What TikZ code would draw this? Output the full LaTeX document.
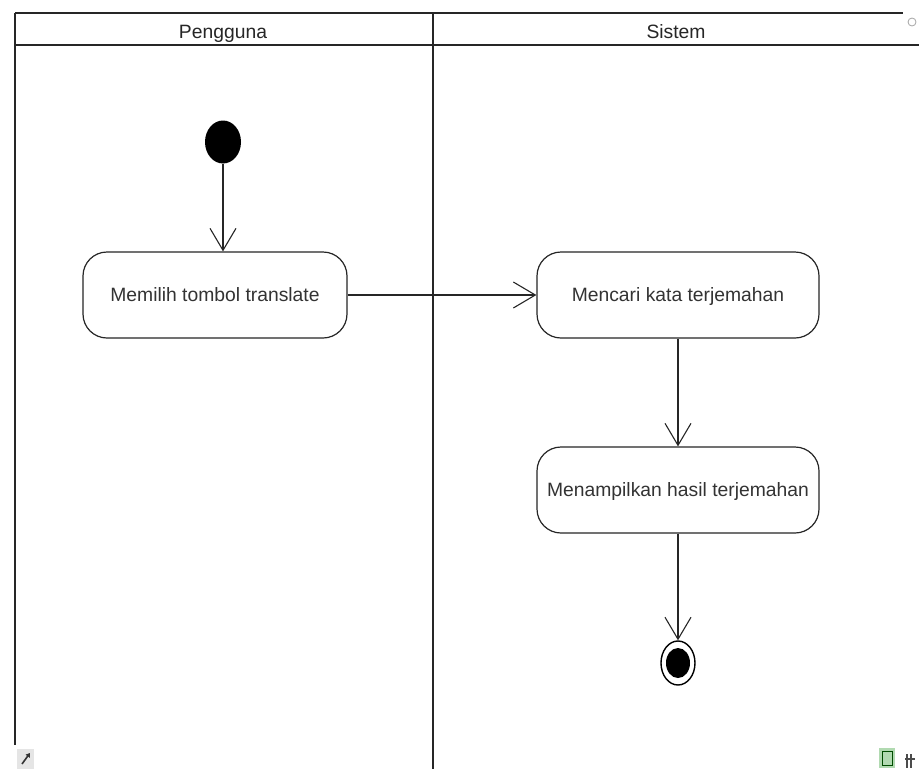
\documentclass[tikz,border=0pt]{standalone}
\usepackage{fontspec}
\setmainfont{Liberation Sans}
\usetikzlibrary{arrows.meta,shapes.geometric}
\begin{document}
\begin{tikzpicture}[x=1pt,y=-1pt,
  lane/.style={line width=1.3pt,draw=black!85},
  header/.style={font=\fontsize{19.3}{22}\selectfont,text=black!85,anchor=base,inner sep=0pt},
  action/.style={draw=black!85,line width=1.2pt,rounded corners=24pt,minimum height=86pt,
    inner sep=0pt,text height=13.8pt,text depth=0pt,text=black!80,
    font=\fontsize{19.3}{22}\selectfont},
  flow/.style={line width=1.1pt,draw=black!85,
    -{Straight Barb[length=22pt,width=26pt,line width=1.1pt]}},
  startnode/.style={ellipse,fill=black,minimum width=36pt,minimum height=43pt,inner sep=0pt},
  endring/.style={ellipse,draw=black,line width=1.4pt,minimum width=34pt,minimum height=44pt,inner sep=0pt},
  enddot/.style={ellipse,fill=black,minimum width=24pt,minimum height=30pt,inner sep=0pt}]
\useasboundingbox (0,0) rectangle (919,769);
\fill[white] (0,0) rectangle (919,769);

% swimlane frame
\coordinate (tl) at (15,13);
\coordinate (tr) at (903,13);
\coordinate (hl) at (15,45);
\coordinate (hr) at (919,45);
\coordinate (bl) at (15,745);
\coordinate (mt) at (433,13);
\coordinate (mb) at (433,769);
\draw[lane] (tl) -- (tr);
\draw[lane] (hl) -- (hr);
\draw[lane] (tl) -- (bl);
\draw[lane] (mt) -- (mb);

\node[header] (hUser) at (223,38) {Pengguna};
\node[header] (hSys) at (676,38) {Sistem};

% activity nodes
\node[startnode] (start) at (223,142) {};
\node[action,minimum width=264pt] (a1) at (215,295) {Memilih tombol translate};
\node[action,minimum width=282pt] (a2) at (678,295) {Mencari kata terjemahan};
\node[action,minimum width=282pt] (a3) at (678,490) {Menampilkan hasil terjemahan};
\node[endring] (end) at (678,663) {};
\node[enddot] (endin) at (end.center) {};

% control flow
\draw[flow] (start) -- (start |- a1.north);
\draw[flow] (a1) -- (a2);
\draw[flow] (a2) -- (a3);
\draw[flow] (a3) -- (end);

% small editor marks
\draw[gray!70,line width=0.8pt] (912,22) circle (4);
\fill[gray!20] (17,749) rectangle (34,769);
\draw[gray!40!black,line width=1.6pt,-{Triangle[length=4pt,width=5pt]}] (22,764) -- (30,753);
\fill[green!35!gray!45] (879,748) rectangle (895,768);
\draw[green!30!black,line width=0.7pt] (882,751) rectangle (892,765);
\draw[black!70,line width=1.2pt] (907,754) -- (907,768) (911,754) -- (911,768) (905,759) -- (915,759);
\end{tikzpicture}
\end{document}
